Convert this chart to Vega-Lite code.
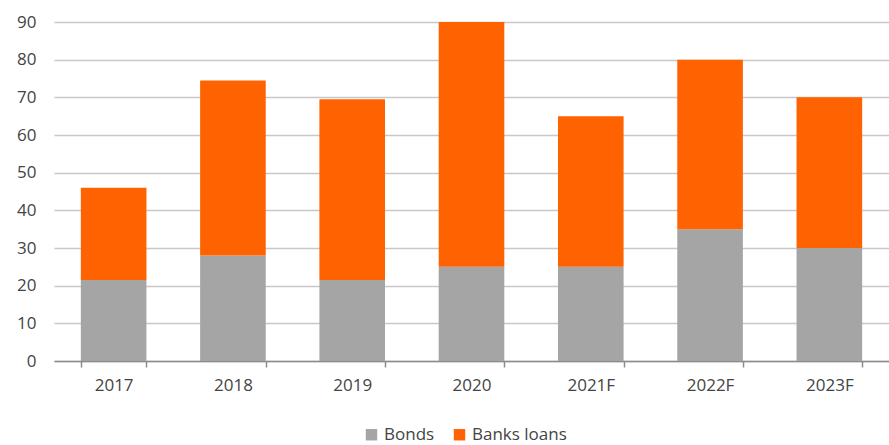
{
  "$schema": "https://vega.github.io/schema/vega-lite/v6.json",
  "autosize": {"type": "none"},
  "width": 835,
  "height": 339,
  "padding": {"left": 54, "top": 22, "right": 0, "bottom": 84},
  "background": "white",
  "config": {
    "view": {"stroke": null},
    "font": "Open Sans"
  },
  "data": {
    "values": [
      {"year": "2017", "series": "Bonds", "value": 21.5, "order": 1},
      {"year": "2017", "series": "Banks loans", "value": 24.5, "order": 2},
      {"year": "2018", "series": "Bonds", "value": 28, "order": 1},
      {"year": "2018", "series": "Banks loans", "value": 46.5, "order": 2},
      {"year": "2019", "series": "Bonds", "value": 21.5, "order": 1},
      {"year": "2019", "series": "Banks loans", "value": 48, "order": 2},
      {"year": "2020", "series": "Bonds", "value": 25, "order": 1},
      {"year": "2020", "series": "Banks loans", "value": 65, "order": 2},
      {"year": "2021F", "series": "Bonds", "value": 25, "order": 1},
      {"year": "2021F", "series": "Banks loans", "value": 40, "order": 2},
      {"year": "2022F", "series": "Bonds", "value": 35, "order": 1},
      {"year": "2022F", "series": "Banks loans", "value": 45, "order": 2},
      {"year": "2023F", "series": "Bonds", "value": 30, "order": 1},
      {"year": "2023F", "series": "Banks loans", "value": 40, "order": 2}
    ]
  },
  "mark": {"type": "bar"},
  "encoding": {
    "x": {
      "field": "year",
      "type": "nominal",
      "sort": null,
      "scale": {"paddingInner": 0.45, "paddingOuter": 0.225},
      "axis": {
        "title": null,
        "labelAngle": 0,
        "labelFontSize": 17,
        "labelColor": "#444444",
        "labelPadding": 10,
        "domainColor": "#8c8c8c",
        "domainWidth": 1.5,
        "tickColor": "#8c8c8c",
        "tickBand": "extent",
        "tickSize": 6,
        "tickWidth": 1.5,
        "grid": false
      }
    },
    "y": {
      "field": "value",
      "type": "quantitative",
      "stack": "zero",
      "scale": {"domain": [0, 90]},
      "axis": {
        "title": null,
        "values": [0, 10, 20, 30, 40, 50, 60, 70, 80, 90],
        "labelFontSize": 17,
        "labelColor": "#444444",
        "labelPadding": 18,
        "domain": false,
        "ticks": false,
        "grid": true,
        "gridColor": "#c8c8c8",
        "gridWidth": 1.5
      }
    },
    "color": {
      "field": "series",
      "type": "nominal",
      "scale": {"domain": ["Bonds", "Banks loans"], "range": ["#a5a5a5", "#ff6200"]},
      "legend": {
        "orient": "none",
        "legendX": 309,
        "legendY": 404,
        "direction": "horizontal",
        "title": null,
        "symbolType": "square",
        "symbolSize": 130,
        "symbolStrokeWidth": 0,
        "labelFontSize": 17,
        "labelColor": "#444444",
        "labelOffset": 4,
        "columnPadding": 16
      }
    },
    "order": {"field": "order", "type": "quantitative"}
  }
}
